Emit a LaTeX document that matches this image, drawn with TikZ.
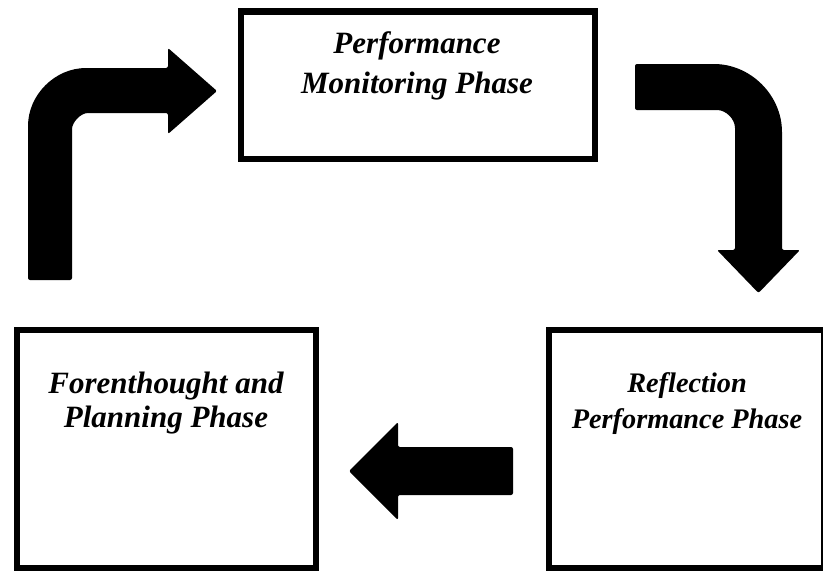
\documentclass[tikz,border=0pt]{standalone}
\usepackage{fontspec}
\setmainfont{Liberation Serif}
\begin{document}
\begin{tikzpicture}[x=1pt, y=-1pt,
  phasebox/.style={draw=black, line width=6.5pt, rectangle, inner sep=0pt, fill=white},
  phasetext/.style={align=center, anchor=base, inner sep=0pt, text=black},
  blockarrow/.style={fill=black, rounded corners=2pt}]
\useasboundingbox (0,0) rectangle (823,571);
\fill[white] (0,0) rectangle (823,571);

% phase boxes
\node[phasebox, minimum width=354pt, minimum height=147.5pt] (monitor) at (418,85.25) {};
\node[phasebox, minimum width=299pt, minimum height=238pt] (plan) at (166.5,449) {};
\node[phasebox, minimum width=275pt, minimum height=238pt] (reflect) at (686.5,449) {};

% phase labels (anchored at the baseline of the last line)
\node[phasetext, font=\fontsize{31}{40}\selectfont\bfseries\itshape] (monitorlabel) at (417,93)
  {Performance\\Monitoring Phase};
\node[phasetext, font=\fontsize{31}{34}\selectfont\bfseries\itshape] (planlabel) at (166,427)
  {Forenthought and\\Planning Phase};
\node[phasetext, font=\fontsize{28.3}{36}\selectfont\bfseries\itshape] (reflectlabel) at (687,428)
  {Reflection\\Performance Phase};

% bent arrow: planning -> monitoring
\fill[blockarrow] (28,280) -- (28,128)
  .. controls (28,94.9) and (54.9,68) .. (88,68)
  -- (168,68) -- (168,48) -- (217,91) -- (168,134) -- (168,113) -- (90,113)
  .. controls (80.1,113) and (72,122.9) .. (72,131)
  -- (72,280) -- cycle;

% bent arrow: monitoring -> reflection
\fill[blockarrow] (635,64) -- (712,64)
  .. controls (750.7,64) and (782,95.3) .. (782,134)
  -- (782,250) -- (800,250) -- (758.5,293) -- (717,250) -- (735,250) -- (735,130)
  .. controls (735,119) and (726,110) .. (715,110)
  -- (635,110) -- cycle;

% straight arrow: reflection -> planning
\fill[blockarrow] (513,447) -- (398,447) -- (398,422) -- (349,471) -- (398,520)
  -- (398,495) -- (513,495) -- cycle;
\end{tikzpicture}
\end{document}
